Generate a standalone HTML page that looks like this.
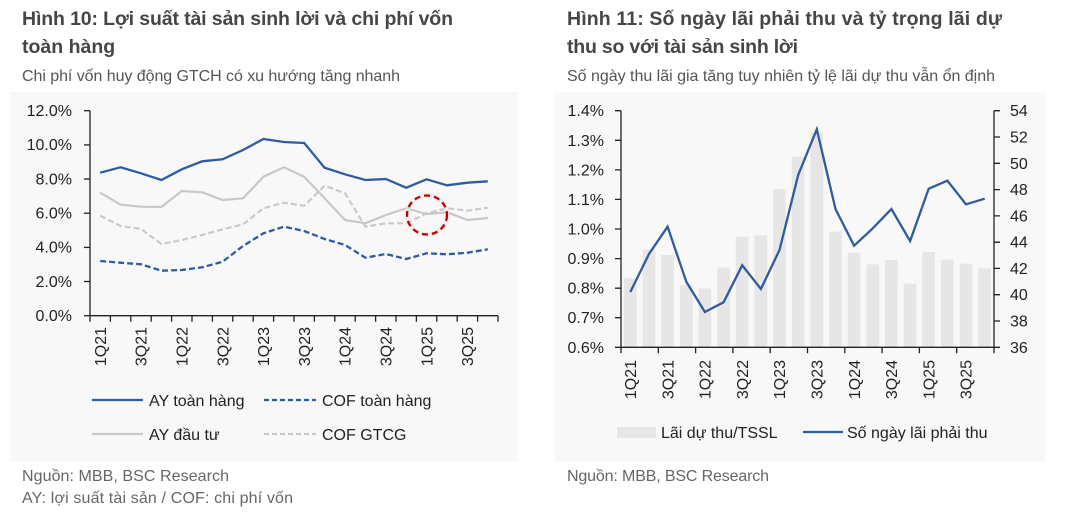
<!DOCTYPE html>
<html><head><meta charset="utf-8"><style>
html,body{margin:0;padding:0;background:#fff;}
svg{display:block;}
text{font-family:"Liberation Sans",sans-serif;}
</style></head><body>
<svg width="1080" height="512" viewBox="0 0 1080 512" xmlns="http://www.w3.org/2000/svg">
<rect width="1080" height="512" fill="#fff"/>
<!-- panels -->
<rect x="10" y="92" width="508" height="370" fill="#f8f8f8"/>
<rect x="555" y="92" width="490" height="370" fill="#f8f8f8"/>

<!-- titles left -->
<text x="22" y="25" font-size="19.5" font-weight="bold" fill="#464646" textLength="431" lengthAdjust="spacing">Hình 10: Lợi suất tài sản sinh lời và chi phí vốn</text>
<text x="22" y="53" font-size="19.5" font-weight="bold" fill="#464646">toàn hàng</text>
<text x="22" y="81" font-size="16" fill="#555" textLength="378" lengthAdjust="spacing">Chi phí vốn huy động GTCH có xu hướng tăng nhanh</text>

<!-- titles right -->
<text x="567" y="25" font-size="19.5" font-weight="bold" fill="#464646" textLength="435" lengthAdjust="spacing">Hình 11: Số ngày lãi phải thu và tỷ trọng lãi dự</text>
<text x="567" y="53" font-size="19.5" font-weight="bold" fill="#464646" textLength="231" lengthAdjust="spacing">thu so với tài sản sinh lời</text>
<text x="567" y="81" font-size="16" fill="#555" textLength="428" lengthAdjust="spacing">Số ngày thu lãi gia tăng tuy nhiên tỷ lệ lãi dự thu vẫn ổn định</text>

<!-- LEFT CHART -->
<g font-size="16" fill="#222" text-anchor="end">
<text x="72" y="116">12.0%</text>
<text x="72" y="150.2">10.0%</text>
<text x="72" y="184.3">8.0%</text>
<text x="72" y="218.5">6.0%</text>
<text x="72" y="252.7">4.0%</text>
<text x="72" y="286.8">2.0%</text>
<text x="72" y="321">0.0%</text>
</g>
<g stroke="#222" stroke-width="1.3">
<line x1="90" y1="110.7" x2="90" y2="316"/>
<line x1="90" y1="315.7" x2="498" y2="315.7"/>
<line x1="84" y1="110.7" x2="90" y2="110.7"/>
<line x1="84" y1="144.9" x2="90" y2="144.9"/>
<line x1="84" y1="179" x2="90" y2="179"/>
<line x1="84" y1="213.2" x2="90" y2="213.2"/>
<line x1="84" y1="247.4" x2="90" y2="247.4"/>
<line x1="84" y1="281.5" x2="90" y2="281.5"/>
<line x1="84" y1="315.7" x2="90" y2="315.7"/>
<path d="M90 315.7v6M110.4 315.7v6M130.8 315.7v6M151.2 315.7v6M171.6 315.7v6M192 315.7v6M212.4 315.7v6M232.8 315.7v6M253.2 315.7v6M273.6 315.7v6M294 315.7v6M314.4 315.7v6M334.8 315.7v6M355.2 315.7v6M375.6 315.7v6M396 315.7v6M416.4 315.7v6M436.8 315.7v6M457.2 315.7v6M477.6 315.7v6M498 315.7v6" fill="none"/>
</g>
<g font-size="16" fill="#222" text-anchor="end">
<text transform="translate(105.9,327) rotate(-90)">1Q21</text>
<text transform="translate(146.7,327) rotate(-90)">3Q21</text>
<text transform="translate(187.5,327) rotate(-90)">1Q22</text>
<text transform="translate(228.3,327) rotate(-90)">3Q22</text>
<text transform="translate(269.1,327) rotate(-90)">1Q23</text>
<text transform="translate(309.9,327) rotate(-90)">3Q23</text>
<text transform="translate(350.7,327) rotate(-90)">1Q24</text>
<text transform="translate(391.5,327) rotate(-90)">3Q24</text>
<text transform="translate(432.3,327) rotate(-90)">1Q25</text>
<text transform="translate(473.1,327) rotate(-90)">3Q25</text>
</g>
<!-- series -->
<polyline fill="none" stroke="#2f5c9e" stroke-width="2.3" stroke-dasharray="6 3" points="100.2,261 120.6,262.7 141,264.3 161.4,270.7 181.8,270 202.2,267.3 222.6,261.7 243,246 263.4,233.3 283.8,226.7 304.2,231 324.6,239 345,245 365.4,257.7 385.8,254 406.2,259 426.6,253.3 447,254.3 467.4,252.7 487.8,249.3"/>
<polyline fill="none" stroke="#c8c8c8" stroke-width="2.2" points="100.2,192.7 120.6,204.7 141,206.7 161.4,207 181.8,191 202.2,192.3 222.6,200 243,198.3 263.4,176.7 283.8,167.3 304.2,176.7 324.6,198.3 345,220 365.4,223.3 385.8,215 406.2,208.3 426.6,214 447,212.3 467.4,220 487.8,218"/>
<polyline fill="none" stroke="#cacaca" stroke-width="2.2" stroke-dasharray="6 3" points="100.2,215.7 120.6,226 141,229 161.4,244 181.8,240 202.2,235 222.6,229.3 243,224.3 263.4,208.3 283.8,202.7 304.2,205.7 324.6,185.7 345,193.3 365.4,226.7 385.8,223.3 406.2,223.3 426.6,213.3 447,208.3 467.4,210.7 487.8,207.7"/>
<polyline fill="none" stroke="#2f5c9e" stroke-width="2.3" points="100.2,172.7 120.6,167.3 141,173.3 161.4,180 181.8,169.3 202.2,161.3 222.6,159.3 243,150 263.4,139 283.8,142 304.2,143 324.6,167.7 345,174.3 365.4,180 385.8,179 406.2,187.7 426.6,179.3 447,185.3 467.4,182.7 487.8,181.3"/>
<ellipse cx="427" cy="215" rx="20" ry="19.5" fill="none" stroke="#e8e8e8" stroke-width="5" opacity="0.6"/>
<ellipse cx="427" cy="215" rx="20" ry="19.5" fill="none" stroke="#c00000" stroke-width="2.3" stroke-dasharray="6 4"/>

<!-- left legend -->
<line x1="92" y1="400" x2="143" y2="400" stroke="#2f5c9e" stroke-width="2.3"/>
<line x1="264" y1="400" x2="316" y2="400" stroke="#2f5c9e" stroke-width="2.3" stroke-dasharray="5 3"/>
<line x1="92" y1="434" x2="143" y2="434" stroke="#c8c8c8" stroke-width="2.3"/>
<line x1="264" y1="434" x2="316" y2="434" stroke="#cacaca" stroke-width="2.3" stroke-dasharray="5 3"/>
<g font-size="16" fill="#222">
<text x="149" y="406">AY toàn hàng</text>
<text x="322" y="406">COF toàn hàng</text>
<text x="149" y="440">AY đầu tư</text>
<text x="322" y="440">COF GTCG</text>
</g>

<!-- footer left -->
<text x="22" y="481" font-size="16" fill="#666" textLength="207" lengthAdjust="spacing">Nguồn: MBB, BSC Research</text>
<text x="22" y="503" font-size="16" fill="#666" textLength="271" lengthAdjust="spacing">AY: lợi suất tài sản / COF: chi phí vốn</text>

<!-- RIGHT CHART -->
<g fill="#e6e6e6">
<rect x="623.9" y="278.3" width="12.7" height="69"/>
<rect x="642.6" y="249.3" width="12.7" height="98"/>
<rect x="661.2" y="255" width="12.7" height="92.3"/>
<rect x="679.9" y="285" width="12.7" height="62.3"/>
<rect x="698.5" y="288.3" width="12.7" height="59"/>
<rect x="717.2" y="267.7" width="12.7" height="79.6"/>
<rect x="735.8" y="236.7" width="12.7" height="110.6"/>
<rect x="754.5" y="235.3" width="12.7" height="112"/>
<rect x="773.1" y="189" width="12.7" height="158.3"/>
<rect x="791.8" y="156.7" width="12.7" height="190.6"/>
<rect x="810.4" y="132.7" width="12.7" height="214.6"/>
<rect x="829.1" y="231.7" width="12.7" height="115.6"/>
<rect x="847.7" y="252.7" width="12.7" height="94.6"/>
<rect x="866.4" y="264.3" width="12.7" height="83"/>
<rect x="885" y="260" width="12.7" height="87.3"/>
<rect x="903.7" y="283.7" width="12.7" height="63.6"/>
<rect x="922.3" y="252" width="12.7" height="95.3"/>
<rect x="941" y="259.7" width="12.7" height="87.6"/>
<rect x="959.6" y="263.7" width="12.7" height="83.6"/>
<rect x="978.3" y="268.3" width="12.7" height="79"/>
</g>
<polyline fill="none" stroke="#2f5c9e" stroke-width="2.3" points="630.3,292 649,254 667.6,226.7 686.3,281.7 704.9,312 723.6,302.3 742.2,265.3 760.9,289 779.5,250 798.2,175 816.8,129.3 835.5,209 854.1,245.7 872.8,228.3 891.4,209 910.1,241 928.7,188.7 947.4,180.7 966,204.3 984.7,198.7"/>
<g stroke="#222" stroke-width="1.3" fill="none">
<line x1="621" y1="110.7" x2="621" y2="347.3"/>
<line x1="994" y1="110.7" x2="994" y2="347.3"/>
<line x1="621" y1="347.3" x2="994" y2="347.3"/>
<path d="M615 110.7h6M615 140.3h6M615 169.9h6M615 199.4h6M615 229h6M615 258.6h6M615 288.2h6M615 317.7h6M615 347.3h6"/>
<path d="M994 110.7h6M994 137h6M994 163.3h6M994 189.6h6M994 215.9h6M994 242.2h6M994 268.4h6M994 294.7h6M994 321h6M994 347.3h6"/>
<path d="M621 347.3v6M658.3 347.3v6M695.6 347.3v6M732.9 347.3v6M770.2 347.3v6M807.5 347.3v6M844.8 347.3v6M882.1 347.3v6M919.4 347.3v6M956.7 347.3v6M994 347.3v6"/>
</g>
<g font-size="16" fill="#222" text-anchor="end">
<text x="604" y="116.2">1.4%</text>
<text x="604" y="145.8">1.3%</text>
<text x="604" y="175.4">1.2%</text>
<text x="604" y="204.9">1.1%</text>
<text x="604" y="234.5">1.0%</text>
<text x="604" y="264.1">0.9%</text>
<text x="604" y="293.7">0.8%</text>
<text x="604" y="323.2">0.7%</text>
<text x="604" y="352.8">0.6%</text>
</g>
<g font-size="16" fill="#222">
<text x="1010" y="116.2">54</text>
<text x="1010" y="142.5">52</text>
<text x="1010" y="168.8">50</text>
<text x="1010" y="195.1">48</text>
<text x="1010" y="221.4">46</text>
<text x="1010" y="247.7">44</text>
<text x="1010" y="273.9">42</text>
<text x="1010" y="300.2">40</text>
<text x="1010" y="326.5">38</text>
<text x="1010" y="352.8">36</text>
</g>
<g font-size="16" fill="#222" text-anchor="end">
<text transform="translate(636,360) rotate(-90)">1Q21</text>
<text transform="translate(673.3,360) rotate(-90)">3Q21</text>
<text transform="translate(710.6,360) rotate(-90)">1Q22</text>
<text transform="translate(747.9,360) rotate(-90)">3Q22</text>
<text transform="translate(785.2,360) rotate(-90)">1Q23</text>
<text transform="translate(822.5,360) rotate(-90)">3Q23</text>
<text transform="translate(859.8,360) rotate(-90)">1Q24</text>
<text transform="translate(897.1,360) rotate(-90)">3Q24</text>
<text transform="translate(934.4,360) rotate(-90)">1Q25</text>
<text transform="translate(971.7,360) rotate(-90)">3Q25</text>
</g>

<!-- right legend -->
<rect x="617" y="427" width="39" height="11" fill="#e6e6e6"/>
<text x="661" y="438" font-size="16" fill="#222">Lãi dự thu/TSSL</text>
<line x1="803" y1="432" x2="843" y2="432" stroke="#2f5c9e" stroke-width="2.3"/>
<text x="847" y="438" font-size="16" fill="#222">Số ngày lãi phải thu</text>

<!-- footer right -->
<text x="567" y="481" font-size="16" fill="#666" textLength="202" lengthAdjust="spacing">Nguồn: MBB, BSC Research</text>
</svg>
</body></html>
